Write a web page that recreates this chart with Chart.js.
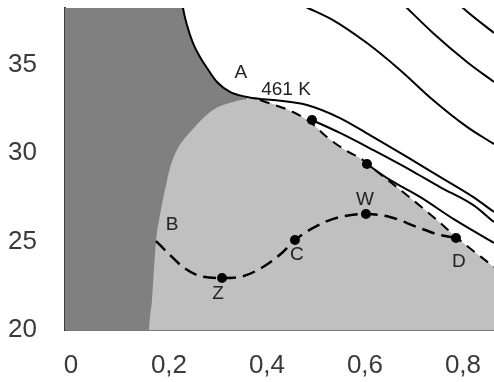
<!DOCTYPE html>
<html>
<head>
<meta charset="utf-8">
<script src="https://cdn.jsdelivr.net/npm/chart.js@4.4.1/dist/chart.umd.min.js"></script>
<style>
  body { margin: 0; background: #fff; }
</style>
</head>
<body>
<canvas id="myChart" width="494" height="382"></canvas>
<script>
// axis ticks
const xTicks = [0, 0.2, 0.4, 0.6, 0.8];
const xTickLabels = ['0', '0,2', '0,4', '0,6', '0,8'];
const yTicks = [20, 25, 30, 35];

// 461 K isotherm (touches the critical point A)
const critX = [0.2265, 0.2286, 0.2367, 0.2490, 0.2633, 0.2776, 0.2980, 0.3245, 0.3592, 0.3857, 0.4122, 0.4816, 0.5490, 0.6163, 0.6857, 0.7531, 0.8204, 0.8633];
const critY = [38.65, 38.2, 37.24, 36.22, 35.43, 34.81, 34.02, 33.46, 33.17, 33.06, 33.00, 32.72, 31.98, 30.91, 29.78, 28.65, 27.52, 26.67];
const pointA = 0.3653;

// two-phase envelope
const domeLeftX = [0.1585, 0.1592, 0.1653, 0.1735, 0.1816, 0.1918, 0.2020, 0.2163, 0.2469, 0.2898, 0.3306, 0.3653];
const domeLeftY = [19.5, 20.0, 21.70, 25.03, 26.50, 27.91, 29.16, 30.18, 31.31, 32.44, 32.89, 33.06];
const domeRightX = [0.3857, 0.4530, 0.4878, 0.5224, 0.5590, 0.5959, 0.6102, 0.6776, 0.7469, 0.7857, 0.8633];
const domeRightY = [33.00, 32.32, 31.76, 30.91, 30.18, 29.61, 29.27, 27.80, 26.22, 25.26, 23.56];

// isotherms leaving the envelope
const iso2X = [0.4918, 0.5490, 0.6163, 0.7000, 0.7531, 0.8204, 0.8633];
const iso2Y = [31.87, 31.14, 30.18, 28.93, 28.08, 27.07, 26.10];
const iso3X = [0.6040, 0.6510, 0.7122, 0.7837, 0.8633];
const iso3Y = [29.38, 28.48, 27.52, 26.22, 24.92];

// hotter isotherms, upper right
const hot1X = [0.4570, 0.4837, 0.5347, 0.6041, 0.6714, 0.7388, 0.8082, 0.8633];
const hot1Y = [38.54, 38.2, 37.52, 36.22, 34.70, 33.00, 31.48, 30.51];
const hot2X = [0.6690, 0.6857, 0.7388, 0.8082, 0.8633];
const hot2Y = [38.65, 38.2, 36.79, 35.15, 34.02];
const hot3X = [0.7837, 0.8000, 0.8633];
const hot3Y = [38.65, 38.2, 36.79];

// dashed path B - Z - C - W - D
const pathX = [0.1735, 0.2020, 0.2286, 0.2633, 0.3082, 0.3449, 0.3918, 0.4327, 0.4571, 0.5143, 0.5490, 0.6020, 0.6510, 0.7061, 0.7531, 0.7857];
const pathY = [25.03, 24.24, 23.56, 23.05, 22.94, 23.00, 23.56, 24.41, 25.09, 26.05, 26.39, 26.56, 26.39, 25.82, 25.37, 25.20];

// marked points
const dotX = [0.3082, 0.4571, 0.6020, 0.7857, 0.4918, 0.6040];
const dotY = [22.94, 25.09, 26.56, 25.20, 31.87, 29.38];

// text labels
const labelText = ['A', '461 K', 'B', 'Z', 'C', 'W', 'D'];
const labelX = [0.3469, 0.4388, 0.2061, 0.3000, 0.4612, 0.6000, 0.7918];
const labelY = [34.53, 33.57, 25.94, 22.04, 24.24, 27.35, 23.84];

function pts(xs, ys) {
  return xs.map((x, i) => ({ x: x, y: ys[i] }));
}

const darkPts = [{ x: -0.05, y: 38.65 }].concat(pts(critX, critY).filter(p => p.x <= pointA));
const domePts = pts(domeLeftX, domeLeftY).concat(pts(domeRightX, domeRightY));

function line(data, opts) {
  return Object.assign({
    data: data,
    showLine: true,
    pointRadius: 0,
    borderColor: '#000',
    borderWidth: 2,
    fill: false,
    cubicInterpolationMode: 'monotone',
    clip: 0
  }, opts);
}

const labelPlugin = {
  id: 'labels',
  afterDatasetsDraw(chart) {
    const c = chart.ctx;
    const xs = chart.scales.x, ys = chart.scales.y;
    c.save();
    c.font = '19px "Liberation Sans", Arial, sans-serif';
    c.fillStyle = '#222';
    c.textAlign = 'center';
    c.textBaseline = 'middle';
    labelText.forEach((t, i) => {
      c.fillText(t, xs.getPixelForValue(labelX[i]), ys.getPixelForValue(labelY[i]));
    });
    c.restore();
  }
};

const ctx = document.getElementById('myChart');

new Chart(ctx, {
  type: 'scatter',
  data: {
    datasets: [
      line(darkPts, { order: 9, borderWidth: 0, borderColor: 'rgba(0,0,0,0)', fill: 'start', backgroundColor: '#808080' }),
      line(domePts, { order: 8, borderWidth: 0, borderColor: 'rgba(0,0,0,0)', fill: 'start', backgroundColor: '#c0c0c0' }),
      line(pts(domeRightX, domeRightY), { order: 7, borderDash: [10, 7] }),
      line(pts(critX, critY), { order: 5 }),
      line(pts(iso2X, iso2Y), { order: 5 }),
      line(pts(iso3X, iso3Y), { order: 5 }),
      line(pts(hot1X, hot1Y), { order: 5 }),
      line(pts(hot2X, hot2Y), { order: 5 }),
      line(pts(hot3X, hot3Y), { order: 5 }),
      line(pts(pathX, pathY), { order: 4, borderWidth: 2.5, borderDash: [13, 7] }),
      {
        data: pts(dotX, dotY),
        order: 1,
        pointRadius: 5,
        pointBackgroundColor: '#000',
        pointBorderWidth: 0,
        clip: 0
      }
    ]
  },
  options: {
    responsive: false,
    animation: false,
    layout: { autoPadding: false, padding: { top: 8, right: 0, bottom: 0, left: 0 } },
    plugins: { legend: { display: false }, tooltip: { enabled: false } },
    scales: {
      x: {
        type: 'linear',
        min: -0.0122,
        max: 0.8633,
        grid: { display: false, drawTicks: false },
        border: { display: true, color: '#7a7a7a', width: 2 },
        afterBuildTicks: s => { s.ticks = xTicks.map(v => ({ value: v })); },
        afterFit: s => { s.height = 52; s.paddingLeft = 0; s.paddingRight = 0; },
        ticks: {
          padding: 20,
          color: '#3a3a3a',
          font: { family: '"Liberation Sans", Arial, sans-serif', size: 26 },
          callback: v => xTickLabels[xTicks.indexOf(v)]
        }
      },
      y: {
        type: 'linear',
        min: 20,
        max: 38.2,
        grid: { display: false, drawTicks: false },
        border: { display: true, color: '#404040', width: 2 },
        afterBuildTicks: s => { s.ticks = yTicks.map(v => ({ value: v })); },
        afterFit: s => { s.width = 65; s.paddingTop = 0; s.paddingBottom = 0; },
        ticks: {
          padding: 28,
          color: '#3a3a3a',
          font: { family: '"Liberation Sans", Arial, sans-serif', size: 26 },
          callback: v => String(v)
        }
      }
    }
  },
  plugins: [labelPlugin]
});
</script>
</body>
</html>
